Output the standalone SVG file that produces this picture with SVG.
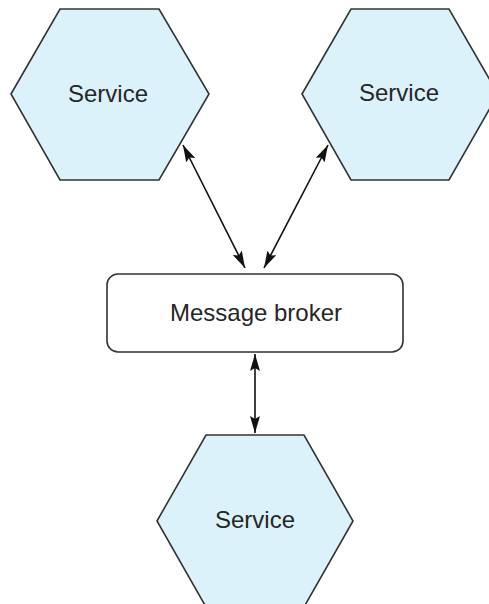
<svg xmlns="http://www.w3.org/2000/svg" width="489" height="604" viewBox="0 0 489 604">
  <style>
    .hex { fill: #dcf2fa; stroke: #333333; stroke-width: 1.6; stroke-linejoin: miter; }
    .box { fill: #ffffff; stroke: #333333; stroke-width: 1.6; }
    .label { font-family: "Liberation Sans", Arial, sans-serif; font-size: 24px; fill: #262626; text-anchor: middle; dominant-baseline: central; }
    .conn { stroke: #111111; stroke-width: 1.6; fill: none; marker-start: url(#head); marker-end: url(#head); }
  </style>
  <defs>
    <marker id="head" viewBox="0 0 17 10" refX="17" refY="5" markerWidth="17" markerHeight="10" markerUnits="userSpaceOnUse" orient="auto-start-reverse">
      <path d="M0,0 L17,5 L0,10 L3,5 Z" fill="#111111"/>
    </marker>
  </defs>

  <g id="service-top-left">
    <polygon class="hex" points="11,94 60,9 159,9 209,94 159,180 60,180"/>
    <text class="label" x="108" y="93">Service</text>
  </g>

  <g id="service-top-right">
    <polygon class="hex" points="302,94 351,9 449,9 498,94 449,180 351,180"/>
    <text class="label" x="399" y="92">Service</text>
  </g>

  <g id="message-broker">
    <rect class="box" x="107" y="274" width="296" height="78" rx="11" ry="11"/>
    <text class="label" x="256" y="312">Message broker</text>
  </g>

  <g id="service-bottom">
    <polygon class="hex" points="157,521 206,435 304,435 353,521 304,607 206,607"/>
    <text class="label" x="255" y="519">Service</text>
  </g>

  <g id="connectors">
    <line class="conn" x1="183" y1="145" x2="245" y2="268"/>
    <line class="conn" x1="328" y1="145" x2="264" y2="268"/>
    <line class="conn" x1="255" y1="354" x2="255" y2="433"/>
  </g>
</svg>
